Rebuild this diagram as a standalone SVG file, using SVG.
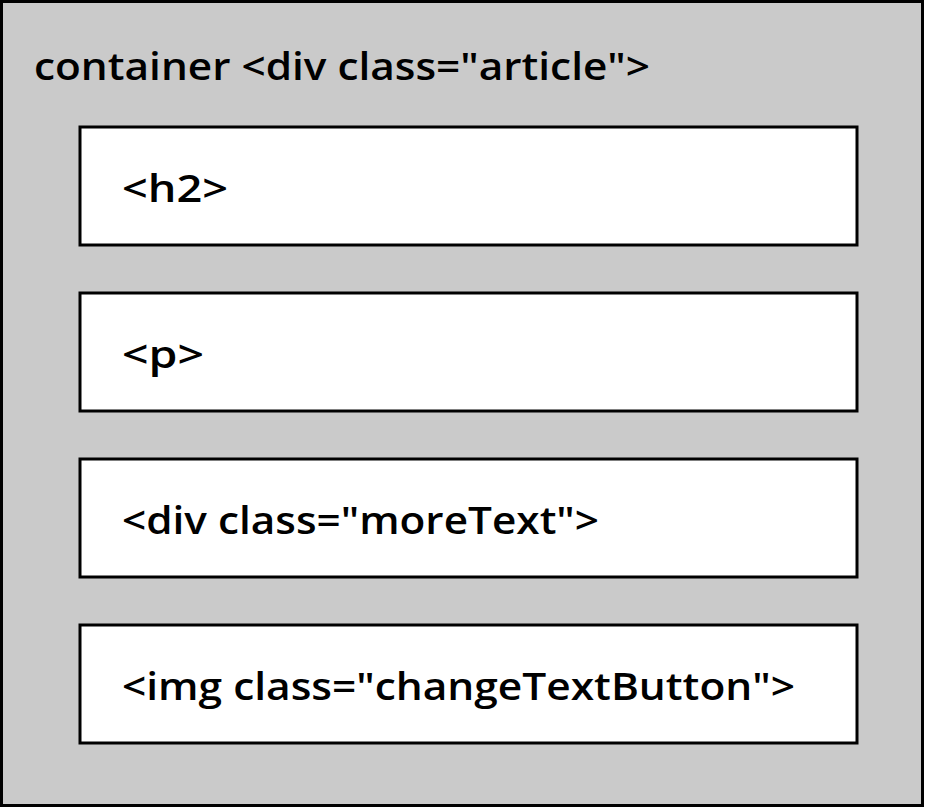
<svg xmlns="http://www.w3.org/2000/svg" width="926" height="809" viewBox="0 0 926 809">
<style>
.box{fill:#fff;stroke:#000;stroke-width:3}
text{font-family:"Open Sans","Liberation Sans",sans-serif;font-weight:600;font-size:38px;fill:#000}
</style>
<g id="container"><rect x="1.5" y="1.5" width="921" height="804" fill="#cacaca" stroke="#000" stroke-width="3"/>
<text x="34" y="80" textLength="616" lengthAdjust="spacingAndGlyphs">container &lt;div class="article"&gt;</text></g>
<g id="h2"><rect class="box" x="80" y="127" width="777" height="118"/><text x="122" y="202" textLength="106" lengthAdjust="spacingAndGlyphs">&lt;h2&gt;</text></g>
<g id="p"><rect class="box" x="80" y="293" width="777" height="118"/><text x="122" y="368" textLength="82" lengthAdjust="spacingAndGlyphs">&lt;p&gt;</text></g>
<g id="moreText"><rect class="box" x="80" y="459" width="777" height="118"/><text x="122" y="534" textLength="477" lengthAdjust="spacingAndGlyphs">&lt;div class="moreText"&gt;</text></g>
<g id="img"><rect class="box" x="80" y="625" width="777" height="118"/><text x="122" y="700" textLength="673" lengthAdjust="spacingAndGlyphs">&lt;img class="changeTextButton"&gt;</text></g>
<g id="connectors"/>
</svg>
